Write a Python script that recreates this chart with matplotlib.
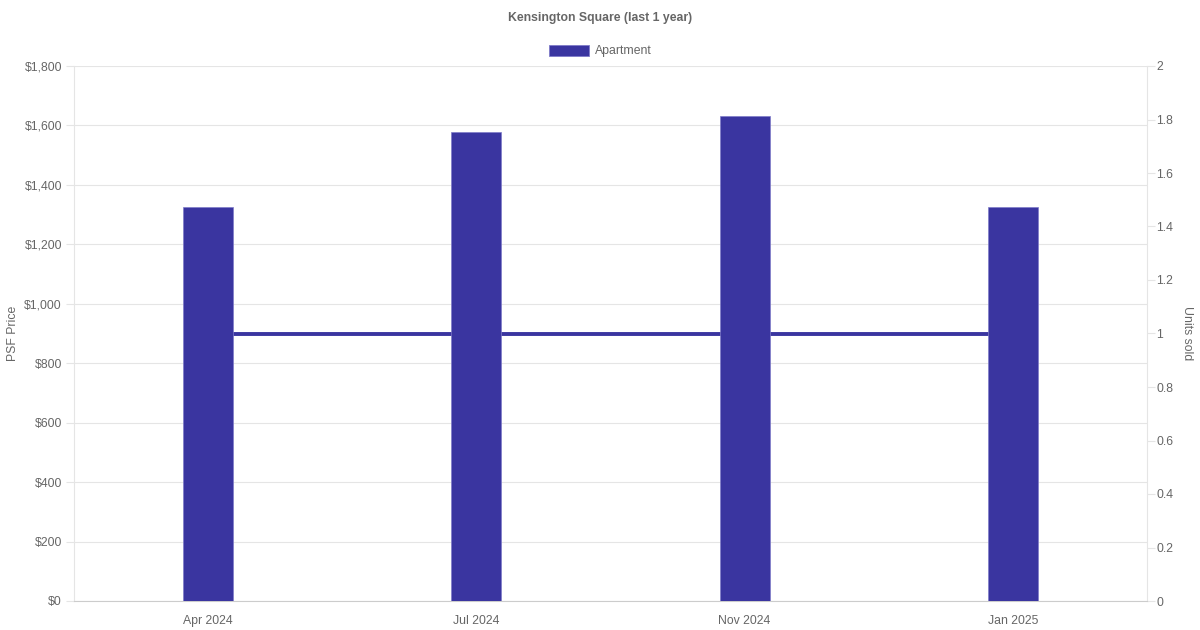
import numpy as np
import matplotlib.pyplot as plt
from matplotlib.ticker import FuncFormatter, MultipleLocator

# Data
months = ["Apr 2024", "Jul 2024", "Nov 2024", "Jan 2025"]
psf_price = [1325, 1578, 1632, 1325]
units_sold = [1, 1, 1, 1]

bar_color = "#3a35a0"
text_color = "#666666"
grid_color = "#e5e5e5"

plt.rcParams['font.family'] = ['Liberation Sans', 'DejaVu Sans']
plt.rcParams['font.size'] = 8.8

fig = plt.figure(figsize=(12, 6.3), dpi=100)
ax = fig.add_axes([74/1200, 1 - 601/630, (1147-74)/1200, (601-66)/630])
ax2 = ax.twinx()

x = np.arange(len(months))

# units sold line sits behind the bars
ax2.plot(x, units_sold, color=bar_color, lw=2.8, zorder=1)
ax2.set_ylim(0, 2)
ax2.yaxis.set_major_locator(MultipleLocator(0.2))
ax2.yaxis.set_major_formatter(FuncFormatter(lambda v, p: "{:g}".format(round(v, 1))))
ax2.set_ylabel("Units sold", color=text_color, rotation=270, va="center")
ax2.yaxis.set_label_coords(1.037, 0.5)

ax.set_zorder(ax2.get_zorder() + 1)
ax.patch.set_visible(False)

ax.bar(x, psf_price, width=0.186, color=bar_color, edgecolor="#7f7bc8",
       lw=0.5, zorder=3)

ax.set_xlim(-0.5, 3.5)
ax.set_ylim(0, 1800)
ax.yaxis.set_major_locator(MultipleLocator(200))
ax.yaxis.set_major_formatter(FuncFormatter(lambda v, p: "${:,.0f}".format(v)))
ax.set_xticks(x)
ax.set_xticklabels(months)
ax.set_ylabel("PSF Price", color=text_color, va="center")
ax.yaxis.set_label_coords(-0.0565, 0.5)
ax.grid(axis="y", color=grid_color, lw=0.8, zorder=0)
ax.set_axisbelow(True)

for a in (ax, ax2):
    a.tick_params(colors=text_color, labelcolor=text_color, length=5.5, width=0.8)
    for s in a.spines.values():
        s.set_visible(False)
ax.tick_params(axis="x", length=0, pad=10)
ax2.tick_params(axis="y", length=5.5, color=grid_color, pad=1.2)
ax.tick_params(axis="y", color=grid_color, pad=3.2)
ax.spines["left"].set_visible(True)
ax.spines["left"].set_color(grid_color)
ax.spines["bottom"].set_visible(True)
ax.spines["bottom"].set_color("#cccccc")
ax2.spines["right"].set_visible(True)
ax2.spines["right"].set_color(grid_color)

fig.text(0.5, 1 - 18/630, "Kensington Square (last 1 year)", ha="center", va="center",
         fontweight="bold", color=text_color)
# legend
fig.patches.append(plt.Rectangle((549/1200, 1 - 56/630), 40/1200, 11/630,
                                 transform=fig.transFigure, fc=bar_color,
                                 ec="#7f7bc8", lw=0.6))
fig.text(595/1200, 1 - 51/630, "Apartment", ha="left", va="center", color=text_color)

fig.savefig("out.png", dpi=100)
